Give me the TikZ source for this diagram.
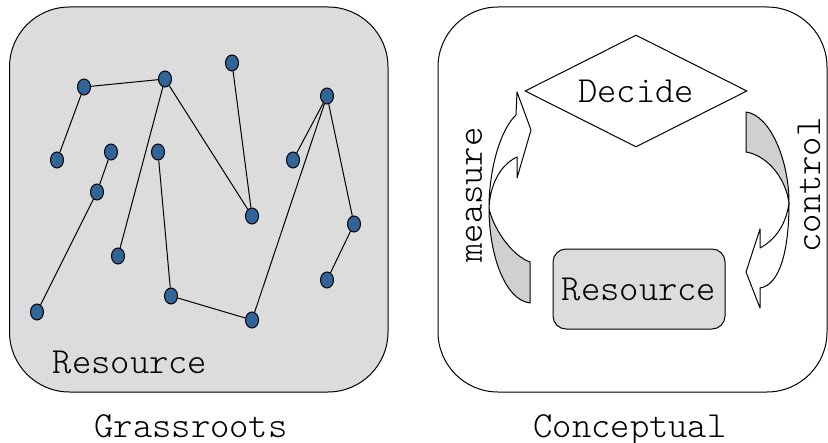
\documentclass[tikz,border=0pt]{standalone}
\usepackage{fontspec}
\setmonofont{Latin Modern Mono Light}
\usetikzlibrary{shapes.geometric}
\definecolor{panelgrey}{HTML}{DCDCDC}
\definecolor{tailgrey}{HTML}{D0D0D0}
\definecolor{dotblue}{HTML}{30659A}

\begin{document}
\begin{tikzpicture}[x=0.5pt,y=-0.5pt,line width=0.5pt,
    panel/.style={draw,rounded corners=30pt,inner sep=0pt},
    dot/.style={ellipse,draw,fill=dotblue,inner sep=0pt,minimum width=6.5pt,minimum height=8pt},
    mono/.style={font=\ttfamily\fontsize{18.4}{22}\selectfont,inner sep=0pt},
    band/.style={draw,line join=round}]

    \useasboundingbox (0,0) rectangle (828,443);

    % the two panels
    \node[panel,fill=panelgrey,minimum width=189.25pt,minimum height=192.5pt] (grass) at (198.75,199.5) {};
    \node[panel,fill=white,minimum width=194.5pt,minimum height=192.5pt] (concept) at (632.5,199.5) {};

    % grassroots: scattered resources
    \node[dot] (d1) at (84,87) {};
    \node[dot] (d2) at (165,79) {};
    \node[dot] (d3) at (232,63) {};
    \node[dot] (d4) at (327,96) {};
    \node[dot] (d5) at (57,160) {};
    \node[dot] (d6) at (111,152) {};
    \node[dot] (d7) at (158,152) {};
    \node[dot] (d8) at (97,192) {};
    \node[dot] (d9) at (252,216) {};
    \node[dot] (d10) at (293,160) {};
    \node[dot] (d11) at (354,224) {};
    \node[dot] (d12) at (118,256) {};
    \node[dot] (d13) at (37,312) {};
    \node[dot] (d14) at (171,296) {};
    \node[dot] (d15) at (252,320) {};
    \node[dot] (d16) at (327,280) {};

    \draw (d5) -- (d1) -- (d2) -- (d12);
    \draw (d2) -- (d9);
    \draw (d3) -- (d9);
    \draw (d6) -- (d8) -- (d13);
    \draw (d7) -- (d14) -- (d15) -- (d4);
    \draw (d10) -- (d4) -- (d11) -- (d16);

    \node[mono,anchor=base] (gres) at (130,373) {Resource};
    \node[mono,anchor=base] (glabel) at (191,437) {Grassroots};

    % conceptual: decide / resource loop
    \node[diamond,draw,fill=white,aspect=2,minimum width=111pt,minimum height=56pt,mono] (decide) at (636,91) {Decide};
    \node[draw,fill=panelgrey,rounded corners=6.5pt,minimum width=86pt,minimum height=40pt,mono] (res) at (639,289) {Resource};

    % measure arrow
    \coordinate (mT1) at (530,262);
    \coordinate (mT2) at (530,303);
    \coordinate (mX) at (489,208);
    \coordinate (mN1) at (516,115);
    \coordinate (mTip) at (517,92);
    \coordinate (mBarb) at (531,130);
    \coordinate (mHb) at (517,178);
    \coordinate (mN2) at (517,157);
    \filldraw[band,fill=tailgrey] (mT1) -- (mT2) .. controls (505,300) and (489,255) .. (mX)
        .. controls (492,225) and (510,255) .. (mT1) -- cycle;
    \filldraw[band,fill=white] (mX) .. controls (489,170) and (500,130) .. (mN1) -- (mTip) -- (mBarb)
        -- (mHb) -- (mN2) .. controls (500,165) and (490,185) .. (mX) -- cycle;

    % control arrow
    \coordinate (cT1) at (746,112);
    \coordinate (cT2) at (746,152);
    \coordinate (cX) at (789,203);
    \coordinate (cNo) at (760,288);
    \coordinate (cTip) at (760,308);
    \coordinate (cBarb) at (746,272);
    \coordinate (cTop) at (760,229);
    \coordinate (cNi) at (760,248);
    \filldraw[band,fill=tailgrey] (cT1) .. controls (770,115) and (789,160) .. (cX)
        .. controls (785,175) and (765,155) .. (cT2) -- cycle;
    \filldraw[band,fill=white] (cX) .. controls (789,250) and (780,285) .. (cNo) -- (cTip) -- (cBarb)
        -- (cTop) -- (cNi) .. controls (775,240) and (786,225) .. (cX) -- cycle;

    \node[mono,rotate=90] (meas) at (474,195) {measure};
    \node[mono,rotate=90] (ctrl) at (809,185) {control};

    \node[mono,anchor=base] (clabel) at (630,437) {Conceptual};
\end{tikzpicture}
\end{document}
